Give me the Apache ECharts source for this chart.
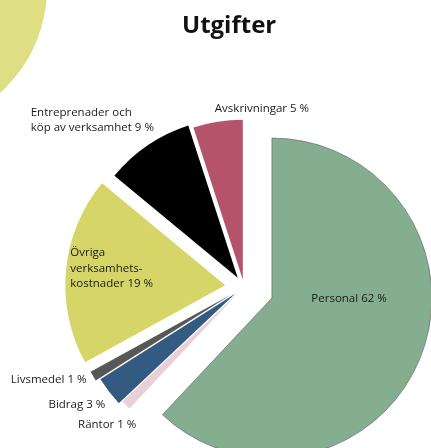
<!DOCTYPE html>
<html><head><meta charset="utf-8">
<script src="https://cdn.jsdelivr.net/npm/echarts@6/dist/echarts.min.js"></script>
<style>html,body{margin:0;padding:0;background:#fff}#c{width:431px;height:448px}</style>
</head><body><div id="c"></div>
<script>
// ---- data ----
const categories = ['Personal', 'Räntor', 'Bidrag', 'Livsmedel', 'Övriga\nverksamhets-\nkostnader', 'Entreprenader och\nköp av verksamhet', 'Avskrivningar'];
const values = [62, 1, 3, 1, 19, 9, 5];

// ---- styling ----
const colors = ['#84AE8F', '#EACFD6', '#335A80', '#575757', '#D6D668', '#000000', '#B5536B'];
const explode = [30, 7, 10.8, 15.3, 18.8, 11.2, 7.4];
const labelStyles = [
  { position: 'inside', layout: { dx: 0, dy: -30 } },
  { position: 'outside', alignTo: 'edge', edgeDistance: 83, length: 28 },
  { position: 'outside', alignTo: 'edge', edgeDistance: 57, length: 21 },
  { position: 'outside', alignTo: 'edge', edgeDistance: 24, length: 6 },
  { position: 'inside', layout: { dx: -31, dy: -9 }, rich: true },
  { position: 'outside', alignTo: 'edge', edgeDistance: 37, length: 30 },
  { position: 'outside', alignTo: 'edge', edgeDistance: 216, length: 13 }
];
const FONT = 'Open Sans';

const chart = echarts.init(document.getElementById('c'), null, { renderer: 'canvas' });

const series = categories.map(function (_, i) {
  const ls = labelStyles[i];
  const s = {
    type: 'pie',
    center: [244, 287],
    radius: 160,
    startAngle: 90,
    clockwise: true,
    selectedMode: 'multiple',
    selectedOffset: explode[i],
    avoidLabelOverlap: false,
    silent: true,
    animation: false,
    emphasis: { disabled: true },
    labelLine: { show: false, length: ls.length || 0, length2: 0 },
    label: {
      show: true,
      position: ls.position,
      alignTo: ls.alignTo || 'none',
      edgeDistance: ls.edgeDistance || 0,
      distanceToLabelLine: 0,
      fontFamily: FONT,
      fontSize: 11.5,
      lineHeight: 15,
      color: '#1a1a1a',
      formatter: function (p) {
        const t = p.name + ' ' + p.value + ' %';
        if (ls.rich) {
          return t.split('\n').map(function (l) { return '{a|' + l + '}'; }).join('\n');
        }
        return t;
      },
      rich: { a: { align: 'left', fontFamily: FONT, fontSize: 11.5, lineHeight: 15.5, color: '#1a1a1a' } }
    },
    data: categories.map(function (c, j) {
      return {
        name: c,
        value: values[j],
        selected: j === i,
        itemStyle: j === i
          ? (i === 0 ? { color: colors[j], borderColor: 'rgba(90,90,90,0.7)', borderWidth: 0.8 } : { color: colors[j], borderWidth: 0 })
          : { color: 'rgba(0,0,0,0)', borderWidth: 0 },
        label: { show: j === i }
      };
    })
  };
  if (ls.layout) s.labelLayout = ls.layout;
  return s;
});

chart.setOption({
  backgroundColor: '#ffffff',
  animation: false,
  title: {
    text: 'Utgifter',
    left: 177,
    top: 9,
    textStyle: { fontFamily: FONT, fontWeight: 'bold', fontSize: 24, color: '#111' }
  },
  graphic: [{
    type: 'circle',
    z: -1,
    shape: { cx: -94, cy: -12, r: 141 },
    style: { fill: '#DEDF84' },
    silent: true
  }],
  series: series
});
</script></body></html>
